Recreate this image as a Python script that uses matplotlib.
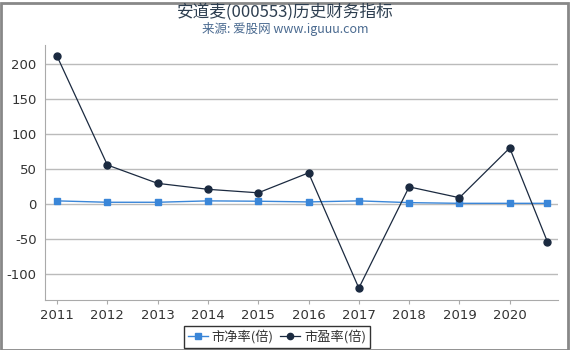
import matplotlib
matplotlib.use("Agg")
import matplotlib.pyplot as plt
from matplotlib.patches import Rectangle

plt.rcParams['font.family'] = ['Noto Sans CJK SC', 'DejaVu Sans']

years = [2011, 2012, 2013, 2014, 2015, 2016, 2017, 2018, 2019, 2020, 2020.75]
tick_years = [2011, 2012, 2013, 2014, 2015, 2016, 2017, 2018, 2019, 2020]
pb = [4.5, 2.5, 2.5, 4.5, 4.0, 3.0, 4.5, 2.0, 1.0, 1.0, 1.0]
pe = [211, 55.7, 29.5, 21, 16, 44.5, -120, 24.5, 9, 80, -54]

fig = plt.figure(figsize=(5.7, 3.5), dpi=100)
ax = fig.add_axes([45/570, 1-300/350, (558-45)/570, (300-45)/350])

ax.plot(years, pb, color='#3a86d8', marker='s', markersize=5, linewidth=1, label='市净率(倍)', zorder=3)
ax.plot(years, pe, color='#1b2a40', marker='o', markersize=5, linewidth=0.9, label='市盈率(倍)', zorder=4)

ax.set_xlim(2010.76, 2020.96)
ax.set_ylim(-137, 227)
ax.set_xticks(tick_years)
ax.set_xticklabels([str(y) for y in tick_years], family='DejaVu Sans')
ax.set_yticks([-100, -50, 0, 50, 100, 150, 200])
ax.set_yticklabels(['-100', '-50', '0', '50', '100', '150', '200'], family='DejaVu Sans')
ax.tick_params(axis='both', labelsize=9.5, colors='#333333', length=3, width=0.8)
ax.tick_params(axis='y', length=0, pad=6)
ax.tick_params(axis='x', color='#aaaaaa')
ax.grid(axis='y', color='#bbbbbb', linewidth=1)
ax.set_axisbelow(True)
for s in ['top', 'right']:
    ax.spines[s].set_visible(False)
ax.spines['left'].set_color('#aaaaaa')
ax.spines['bottom'].set_color('#aaaaaa')

fig.text(0.5, 1-12/350, '安道麦(000553)历史财务指标', ha='center', va='center', fontsize=12, color='#2d3e50')
fig.text(0.5, 1-29/350, '来源: 爱股网 www.iguuu.com', ha='center', va='center', fontsize=9, color='#4a6a90')

leg = fig.legend(loc='center', bbox_to_anchor=(277/570, 1-337/350), ncol=2, fontsize=9.5,
                 frameon=True, fancybox=False, edgecolor='black', handlelength=1.5,
                 handletextpad=0.3, columnspacing=0.5, borderpad=0.3, markerscale=0.9)
leg.get_frame().set_linewidth(1)
for t in leg.get_texts():
    t.set_color('#333333')

fig.patches.append(Rectangle((0.5/570, 0.5/350), 1-3/570, 1-3/350, transform=fig.transFigure,
                             fill=False, edgecolor='#888888', linewidth=2))

fig.savefig('out.png', dpi=100)
